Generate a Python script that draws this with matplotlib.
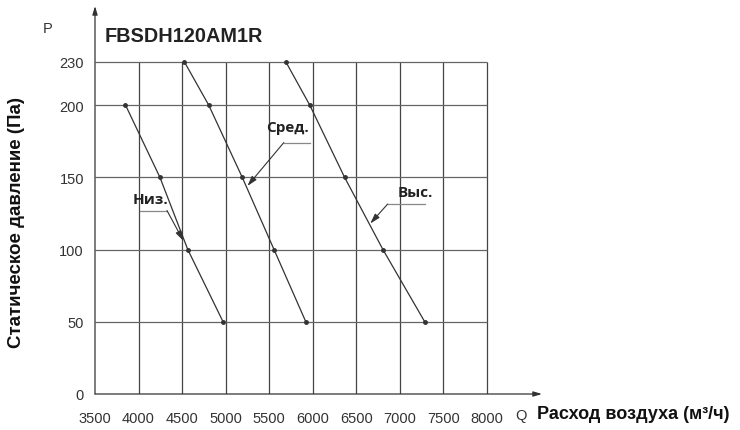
import numpy as np
import matplotlib.pyplot as plt

plt.rcParams['font.family'] = ['Liberation Sans', 'DejaVu Sans']

# axis ticks
q_ticks = [3500, 4000, 4500, 5000, 5500, 6000, 6500, 7000, 7500, 8000]
p_ticks = [0, 50, 100, 150, 200, 230]

# fan curves (Q in m3/h, P in Pa)
low_q = [3850, 4245, 4565, 4970]
low_p = [200, 150, 100, 50]
mid_q = [4525, 4805, 5190, 5555, 5920]
mid_p = [230, 200, 150, 100, 50]
high_q = [5690, 5965, 6365, 6805, 7285]
high_p = [230, 200, 150, 100, 50]

# callouts: label, text pos, leader start/knee, arrow tip
labels = ['Низ.', 'Сред.', 'Выс.']
text_pos = [(4140, 135), (5710, 185), (7180, 139.5)]
leader_end = [(4016, 127), (5966, 174), (7284, 131.5)]
leader_knee = [(4326, 127), (5667, 174), (6860, 131.5)]
arrow_tip = [(4515, 106), (5250, 144), (6660, 118)]

fig = plt.figure(figsize=(7.4, 4.31), dpi=100)
ax = fig.add_axes([95/740, 36/431, 447/740, 388/431])
px_q = 392 / 4500
px_p = (395 - 62.7) / 230
ax.set_xlim(3500, 3500 + 447 / px_q)
ax.set_ylim(0, 388 / px_p)
for s in ax.spines.values():
    s.set_visible(False)

# grid
ax.vlines(q_ticks[1:], 0, p_ticks[-1], color='#444444', lw=0.9)
ax.hlines(p_ticks[1:], q_ticks[0], q_ticks[-1], color='#666666', lw=0.9)

# axes with arrows
ax.annotate('', xy=(ax.get_xlim()[1], 0), xytext=(q_ticks[0], 0),
            arrowprops=dict(arrowstyle='-|>,head_length=0.5,head_width=0.15',
                            color='#333333', lw=0.9, shrinkA=0, shrinkB=0))
ax.annotate('', xy=(q_ticks[0], ax.get_ylim()[1]), xytext=(q_ticks[0], 0),
            arrowprops=dict(arrowstyle='-|>,head_length=0.5,head_width=0.15',
                            color='#333333', lw=0.9, shrinkA=0, shrinkB=0))

for q, p in [(low_q, low_p), (mid_q, mid_p), (high_q, high_p)]:
    ax.plot(q, p, color='#333333', lw=0.9, marker='o', ms=2.5)

for lab, tp, le, lk, at in zip(labels, text_pos, leader_end, leader_knee, arrow_tip):
    ax.text(tp[0], tp[1], lab, family=['Open Sans', 'DejaVu Sans'], fontweight='bold',
            fontsize=11, color='#222222', ha='center', va='center')
    ax.plot([le[0], lk[0]], [le[1], lk[1]], color='#888888', lw=0.9)
    ax.annotate('', xy=at, xytext=lk,
                arrowprops=dict(arrowstyle='-|>,head_length=0.6,head_width=0.18',
                                color='#333333', lw=0.8, shrinkA=0, shrinkB=0))

ax.set_xticks(q_ticks)
ax.set_yticks(p_ticks)
ax.tick_params(length=0, labelsize=10.5, labelcolor='#333333')
ax.tick_params(axis='x', pad=12)
ax.tick_params(axis='y', pad=8)

fig.text(105/740, 1 - 36/431, 'FBSDH120AM1R', fontweight='bold', fontsize=14.3,
         va='center', ha='left', color='#222222')
fig.text(48/740, 1 - 29/431, 'P', fontsize=10.5, va='center', ha='center', color='#333333')
fig.text(521/740, 1 - 416/431, 'Q', fontsize=10.5, va='center', ha='center', color='#333333')
fig.text(537/740, 1 - 415/431, 'Расход воздуха (м³/ч)', fontweight='bold', fontsize=13,
         va='center', ha='left', color='#111111')
fig.text(17/740, 1 - 223/431, 'Статическое давление (Па)', fontweight='bold', fontsize=13.5,
         va='center', ha='center', rotation=90, color='#111111')

fig.savefig('out.png', dpi=100)
